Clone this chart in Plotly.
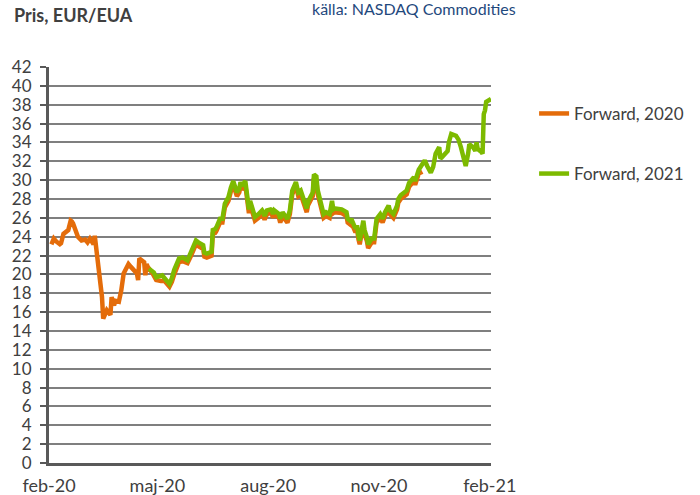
import plotly.graph_objects as go

# EUA forward prices, EUR per allowance
dates_2020 = [
    "2020-02-03", "2020-02-05", "2020-02-07", "2020-02-10", "2020-02-11", "2020-02-13",
    "2020-02-17", "2020-02-19", "2020-02-20", "2020-02-21", "2020-02-25", "2020-02-28",
    "2020-03-02", "2020-03-04", "2020-03-06", "2020-03-09", "2020-03-10", "2020-03-11",
    "2020-03-13", "2020-03-16", "2020-03-17", "2020-03-19", "2020-03-20", "2020-03-23",
    "2020-03-24", "2020-03-26", "2020-03-27", "2020-03-30", "2020-04-01", "2020-04-03",
    "2020-04-07", "2020-04-09", "2020-04-14", "2020-04-15", "2020-04-16", "2020-04-20",
    "2020-04-21", "2020-04-22", "2020-04-23", "2020-04-27", "2020-04-30", "2020-05-04",
    "2020-05-07", "2020-05-11", "2020-05-13", "2020-05-15", "2020-05-19", "2020-05-22",
    "2020-05-26", "2020-05-29", "2020-06-02", "2020-06-04", "2020-06-08", "2020-06-09",
    "2020-06-11", "2020-06-15", "2020-06-16", "2020-06-18", "2020-06-19", "2020-06-22",
    "2020-06-24", "2020-06-26", "2020-06-29", "2020-07-01", "2020-07-03", "2020-07-06",
    "2020-07-08", "2020-07-09", "2020-07-10", "2020-07-13", "2020-07-15", "2020-07-16",
    "2020-07-17", "2020-07-20", "2020-07-21", "2020-07-24", "2020-07-27", "2020-07-28",
    "2020-07-29", "2020-07-31", "2020-08-03", "2020-08-04", "2020-08-05", "2020-08-06",
    "2020-08-10", "2020-08-11", "2020-08-13", "2020-08-14", "2020-08-17", "2020-08-19",
    "2020-08-20", "2020-08-21", "2020-08-24", "2020-08-25", "2020-08-26", "2020-08-28",
    "2020-08-31", "2020-09-02", "2020-09-03", "2020-09-07", "2020-09-08", "2020-09-10",
    "2020-09-11", "2020-09-14", "2020-09-16", "2020-09-18", "2020-09-21", "2020-09-23",
    "2020-09-24", "2020-09-25", "2020-09-29", "2020-10-01", "2020-10-05", "2020-10-06",
    "2020-10-08", "2020-10-09", "2020-10-12", "2020-10-14", "2020-10-15", "2020-10-16",
    "2020-10-19", "2020-10-20", "2020-10-22", "2020-10-23", "2020-10-26", "2020-10-28",
    "2020-10-30", "2020-11-02", "2020-11-04", "2020-11-06", "2020-11-09", "2020-11-10",
    "2020-11-13", "2020-11-16", "2020-11-17", "2020-11-19", "2020-11-23", "2020-11-24",
    "2020-11-26", "2020-11-30", "2020-12-01", "2020-12-02", "2020-12-04", "2020-12-07",
]
fwd_2020 = [
    23.2, 23.8, 23.5, 23.2, 23.3, 24.3,
    24.7, 25.7, 25.6, 25.4, 24.0, 23.6,
    23.7, 23.4, 23.8, 23.2, 24.1, 23.1,
    20.4, 17.6, 15.3, 15.8, 16.2, 15.7,
    17.6, 16.7, 17.2, 17.1, 18.3, 20.1,
    21.1, 20.8, 20.1, 19.4, 21.7, 21.3,
    19.9, 21.1, 20.8, 20.1, 19.4, 19.3,
    19.3, 18.7, 19.2, 20.0, 21.3, 21.4,
    21.2, 22.0, 23.2, 23.0, 22.7, 21.9,
    21.8, 22.0, 24.3, 24.4, 24.6, 25.5,
    25.5, 27.1, 27.8, 28.8, 29.5, 28.3,
    28.7, 29.4, 29.0, 29.5, 27.8, 26.5,
    27.4, 26.2, 25.7, 26.0, 26.4, 26.2,
    25.8, 26.4, 26.5, 26.4, 26.0, 26.4,
    26.0, 25.5, 26.2, 26.0, 25.5, 26.4,
    28.1, 28.5, 29.4, 28.8, 28.3, 28.5,
    27.4, 26.6, 27.3, 28.3, 30.2, 30.0,
    28.6, 27.2, 26.0, 26.2, 26.0, 27.4,
    26.5, 26.6, 26.5, 26.5, 26.2, 25.5,
    25.3, 25.5, 24.6, 24.6, 23.7, 23.2,
    25.3, 24.3, 23.5, 22.8, 23.4, 23.4,
    25.5, 26.0, 25.5, 26.2, 26.9, 26.4,
    26.0, 26.9, 27.6, 28.0, 28.4, 28.5,
    29.3, 29.9, 29.5, 30.0, 30.7, 30.9,
]

dates_2021 = [
    "2020-04-24", "2020-04-28", "2020-04-30", "2020-05-05", "2020-05-07", "2020-05-11",
    "2020-05-13", "2020-05-15", "2020-05-19", "2020-05-22", "2020-05-26", "2020-05-29",
    "2020-06-02", "2020-06-04", "2020-06-08", "2020-06-09", "2020-06-11", "2020-06-15",
    "2020-06-16", "2020-06-18", "2020-06-19", "2020-06-22", "2020-06-24", "2020-06-26",
    "2020-06-29", "2020-07-01", "2020-07-03", "2020-07-06", "2020-07-08", "2020-07-09",
    "2020-07-10", "2020-07-13", "2020-07-15", "2020-07-16", "2020-07-17", "2020-07-20",
    "2020-07-21", "2020-07-24", "2020-07-27", "2020-07-28", "2020-07-29", "2020-07-31",
    "2020-08-03", "2020-08-04", "2020-08-05", "2020-08-06", "2020-08-10", "2020-08-11",
    "2020-08-13", "2020-08-14", "2020-08-17", "2020-08-19", "2020-08-20", "2020-08-21",
    "2020-08-24", "2020-08-25", "2020-08-26", "2020-08-28", "2020-08-31", "2020-09-02",
    "2020-09-03", "2020-09-07", "2020-09-08", "2020-09-10", "2020-09-11", "2020-09-14",
    "2020-09-16", "2020-09-18", "2020-09-21", "2020-09-23", "2020-09-24", "2020-09-25",
    "2020-09-29", "2020-10-01", "2020-10-05", "2020-10-06", "2020-10-08", "2020-10-09",
    "2020-10-12", "2020-10-14", "2020-10-15", "2020-10-16", "2020-10-19", "2020-10-20",
    "2020-10-22", "2020-10-23", "2020-10-26", "2020-10-28", "2020-10-30", "2020-11-02",
    "2020-11-04", "2020-11-06", "2020-11-09", "2020-11-10", "2020-11-13", "2020-11-16",
    "2020-11-17", "2020-11-19", "2020-11-23", "2020-11-24", "2020-11-26", "2020-11-30",
    "2020-12-01", "2020-12-02", "2020-12-04", "2020-12-08", "2020-12-09", "2020-12-11",
    "2020-12-14", "2020-12-16", "2020-12-18", "2020-12-21", "2020-12-22", "2020-12-23",
    "2020-12-28", "2020-12-29", "2020-12-31", "2021-01-04", "2021-01-06", "2021-01-08",
    "2021-01-11", "2021-01-12", "2021-01-14", "2021-01-15", "2021-01-18", "2021-01-20",
    "2021-01-21", "2021-01-22", "2021-01-25", "2021-01-26", "2021-01-27", "2021-01-28",
    "2021-01-29", "2021-02-01", "2021-02-02",
]
fwd_2021 = [
    20.6, 20.2, 19.7, 19.9, 19.6, 19.0,
    19.6, 20.5, 21.7, 21.8, 21.5, 22.4,
    23.6, 23.4, 23.1, 22.3, 22.2, 22.4,
    24.7, 24.8, 25.0, 25.9, 25.9, 27.5,
    28.2, 29.2, 29.9, 28.7, 29.1, 29.8,
    29.4, 29.9, 28.2, 26.9, 27.8, 26.6,
    26.1, 26.4, 26.8, 26.6, 26.2, 26.8,
    26.9, 26.8, 26.4, 26.8, 26.4, 25.9,
    26.6, 26.4, 25.9, 26.8, 28.5, 28.9,
    29.8, 29.2, 28.7, 28.9, 27.8, 27.0,
    27.7, 28.7, 30.6, 30.4, 29.0, 27.6,
    26.4, 26.6, 26.4, 27.8, 26.9, 27.0,
    26.9, 26.9, 26.6, 25.9, 25.7, 25.9,
    25.0, 25.0, 24.1, 23.6, 25.7, 24.7,
    23.9, 23.2, 23.8, 23.8, 25.9, 26.4,
    25.9, 26.6, 27.3, 26.8, 26.4, 27.3,
    28.0, 28.4, 28.8, 28.9, 29.7, 30.3,
    29.9, 30.4, 31.1, 31.9, 32.1, 31.5,
    30.8, 31.4, 32.8, 33.5, 32.3, 32.4,
    33.1, 34.0, 34.9, 34.7, 34.3, 33.5,
    31.9, 31.5, 32.8, 33.8, 33.5, 33.1,
    34.0, 33.3, 33.0, 32.8, 37.0, 37.4,
    38.3, 38.5, 38.6,
]

x_tick_dates = ["2020-02-01", "2020-05-01", "2020-08-01", "2020-11-01", "2021-02-01"]
x_tick_labels = ["feb-20", "maj-20", "aug-20", "nov-20", "feb-21"]
y_ticks = list(range(0, 43, 2))

FONT = "Lato"
TEXT_GREY = "#404040"
GRID = "#7f7f7f"
ORANGE = "#E46C0A"
GREEN = "#7DBA00"

fig = go.Figure()
fig.add_trace(go.Scatter(
    x=dates_2020, y=fwd_2020, mode="lines", name="Forward, 2020",
    line=dict(color=ORANGE, width=4.5), legendgroup="a",
))
fig.add_trace(go.Scatter(
    x=dates_2021, y=fwd_2021, mode="lines", name="Forward, 2021",
    line=dict(color=GREEN, width=4.5), legendgroup="b",
))

fig.update_layout(
    width=700, height=495,
    margin=dict(l=49, r=208, t=67, b=32),
    paper_bgcolor="white", plot_bgcolor="white",
    font=dict(family=FONT, color=TEXT_GREY, size=18),
    showlegend=True,
    legend=dict(
        x=1.095, y=0.927, xanchor="left", yanchor="top",
        font=dict(family=FONT, size=17, color=TEXT_GREY),
        traceorder="grouped", tracegroupgap=35,
        bgcolor="rgba(0,0,0,0)",
    ),
    annotations=[
        dict(text="<b>Pris, EUR/EUA</b>", xref="paper", yref="paper",
             x=-49 / 443, y=1.0, yshift=52, xshift=12, xanchor="left", yanchor="middle",
             showarrow=False, font=dict(family=FONT, size=18, color=TEXT_GREY)),
        dict(text="källa: NASDAQ Commodities", xref="paper", yref="paper",
             x=(311 - 49) / 443, y=1.0, yshift=59, xanchor="left", yanchor="middle",
             showarrow=False, font=dict(family=FONT, size=16, color="#1F497D")),
    ],
)

fig.update_xaxes(
    type="date", range=["2020-02-01", "2021-02-02"],
    tickvals=x_tick_dates, ticktext=x_tick_labels,
    showgrid=False, showline=True, linecolor="#595959", linewidth=3,
    ticks="", tickfont=dict(family=FONT, size=18, color=TEXT_GREY),
    ticklabelstandoff=4, automargin=False,
    zeroline=False,
)
fig.update_yaxes(
    range=[0, 42], tickvals=y_ticks,
    showgrid=True, gridcolor=GRID, gridwidth=2,
    showline=True, linecolor="#595959", linewidth=3,
    ticks="outside", ticklen=6, tickwidth=2, tickcolor="#595959",
    tickfont=dict(family=FONT, size=17, color=TEXT_GREY),
    ticklabelstandoff=5, automargin=False,
    zeroline=False,
)

fig.write_html("out.html")
